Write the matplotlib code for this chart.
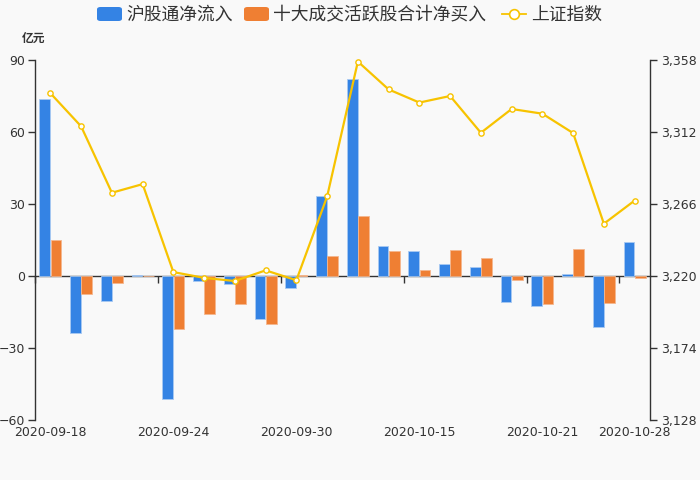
import matplotlib
matplotlib.use("Agg")
import matplotlib.pyplot as plt
from matplotlib.patches import FancyBboxPatch
from matplotlib.lines import Line2D
from matplotlib.ticker import FuncFormatter, FixedLocator
import numpy as np

# ---------------- data ----------------
dates = ['2020-09-18', '2020-09-21', '2020-09-22', '2020-09-23', '2020-09-24',
         '2020-09-25', '2020-09-28', '2020-09-29', '2020-09-30', '2020-10-09',
         '2020-10-12', '2020-10-14', '2020-10-15', '2020-10-16', '2020-10-19',
         '2020-10-20', '2020-10-21', '2020-10-22', '2020-10-27', '2020-10-28']
hgt_inflow = [73.8, -23.9, -10.4, 0.4, -51.1, -2.1, -3.3, -17.8, -4.9, 33.5,
              82.0, 12.4, 10.3, 5.0, 3.8, -11.0, -12.4, 0.7, -21.4, 14.0]
top10_net = [15.0, -7.4, -2.8, 0.1, -22.0, -16.0, -11.5, -19.9, 0.3, 8.3,
             25.0, 10.6, 2.5, 10.8, 7.4, -1.5, -11.5, 11.1, -11.3, -0.7]
sh_index = [3336.8, 3315.6, 3273.2, 3278.7, 3222.5, 3218.8, 3216.8, 3223.6,
            3217.3, 3270.8, 3357.0, 3339.2, 3330.8, 3335.0, 3311.5, 3326.7,
            3323.7, 3311.3, 3253.4, 3268.2]
series_names = ['沪股通净流入', '十大成交活跃股合计净买入', '上证指数']
label_idx = [0, 4, 8, 12, 16, 19]
left_ticks = [-60, -30, 0, 30, 60, 90]
right_ticks = [3128, 3174, 3220, 3266, 3312, 3358]
unit_label = '亿元'

# ---------------- style ----------------
BG = '#f9f9f9'
BLUE = '#3483e4'
ORANGE = '#ef7f33'
GOLD = '#f7c300'
TXT = '#333333'
CJK = ['Noto Sans CJK SC', 'DejaVu Sans']

plt.rcParams['font.family'] = ['DejaVu Sans', 'Noto Sans CJK SC']

W, H = 700, 480
fig = plt.figure(figsize=(W / 100, H / 100), dpi=100, facecolor=BG)
L, R, T, B = 35, 650, 60, 420
ax = fig.add_axes([L / W, 1 - B / H, (R - L) / W, (B - T) / H])
ax.set_facecolor(BG)

n = len(dates)
x = np.arange(n)
bw = 0.345
off = 0.183
ax.bar(x - off, hgt_inflow, width=bw, color=BLUE, edgecolor='#a8c9f2',
       linewidth=0.6, zorder=2)
ax.bar(x + off, top10_net, width=bw, color=ORANGE, edgecolor='#f5b78e',
       linewidth=0.6, zorder=2)

ax.set_xlim(-0.5, n - 0.5)
ax.set_ylim(-60, 90)
ax.yaxis.set_major_locator(FixedLocator(left_ticks))
ax.tick_params(axis='y', direction='out', length=5, width=1, color=TXT,
               labelcolor=TXT, labelsize=9, pad=2)

# x labels at category centers (bottom), no tick marks
ax.set_xticks([x[i] for i in label_idx])
ax.set_xticklabels([dates[i] for i in label_idx])
ax.tick_params(axis='x', length=0, labelsize=9, labelcolor=TXT, pad=4)

for s in ['top', 'right', 'bottom']:
    ax.spines[s].set_visible(False)
ax.spines['left'].set_color(TXT)
ax.spines['left'].set_linewidth(1)

# zero axis line with boundary ticks
zero_pos = (0 - (-60)) / (90 - (-60))
sec = ax.secondary_xaxis(zero_pos)
sec.set_xticks([x[i] - 0.5 for i in label_idx])
sec.set_xticklabels([])
sec.tick_params(axis='x', direction='out', length=5, width=1, color=TXT)
sec.spines['bottom'].set_color(TXT)
sec.spines['bottom'].set_linewidth(1)
sec.spines['bottom'].set_zorder(3)

# right axis: index
ax2 = ax.twinx()
ax2.set_ylim(3128, 3358)
ax2.yaxis.set_major_locator(FixedLocator(right_ticks))
ax2.yaxis.set_major_formatter(FuncFormatter(lambda v, p: f'{int(round(v)):,}'))
ax2.tick_params(axis='y', direction='out', length=5, width=1, color=TXT,
                labelcolor=TXT, labelsize=9, pad=3)
for s in ['top', 'left', 'bottom']:
    ax2.spines[s].set_visible(False)
ax2.spines['right'].set_color(TXT)
ax2.spines['right'].set_linewidth(1)
ax2.plot(x, sh_index, color=GOLD, linewidth=1.6, marker='o', markersize=3.8,
         markerfacecolor='white', markeredgecolor=GOLD, markeredgewidth=1.0,
         zorder=4, clip_on=False)

# unit label
fig.text(34 / W, 1 - 38 / H, unit_label, ha='center', va='center',
         fontsize=8.5, color=TXT, family=CJK, fontweight='bold')

# ---------------- legend (manual) ----------------
def px(xp, yp):
    return xp / W, 1 - yp / H

ly = 14
# blue
bx, by = px(97, ly + 7)
fig.patches.append(FancyBboxPatch((bx, by), 25 / W, 14 / H,
                                  boxstyle='round,pad=0,rounding_size=0.005',
                                  transform=fig.transFigure, facecolor=BLUE,
                                  edgecolor='none'))
fig.text(*px(126, ly + 0.5), series_names[0], ha='left', va='center',
         fontsize=12.8, color=TXT, family=CJK)
# orange
ox, oy = px(244, ly + 7)
fig.patches.append(FancyBboxPatch((ox, oy), 25 / W, 14 / H,
                                  boxstyle='round,pad=0,rounding_size=0.005',
                                  transform=fig.transFigure, facecolor=ORANGE,
                                  edgecolor='none'))
fig.text(*px(273, ly + 0.5), series_names[1], ha='left', va='center',
         fontsize=12.8, color=TXT, family=CJK)
# line
x0, y0 = px(502, ly)
x1, _ = px(526, ly)
fig.lines.append(Line2D([x0, x1], [y0, y0], transform=fig.transFigure,
                        color=GOLD, linewidth=1.3))
fig.lines.append(Line2D([(x0 + x1) / 2], [y0], transform=fig.transFigure,
                        marker='o', markersize=7, markerfacecolor='white',
                        markeredgecolor=GOLD, markeredgewidth=1.2,
                        linestyle='none'))
fig.text(*px(531, ly + 0.5), series_names[2], ha='left', va='center',
         fontsize=12.8, color=TXT, family=CJK)

fig.savefig('out.png', dpi=100, facecolor=BG)
